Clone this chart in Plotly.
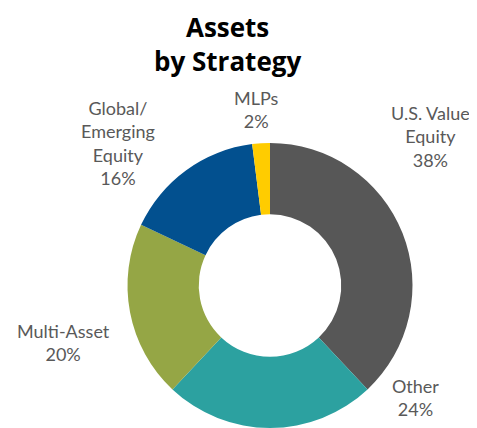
import plotly.graph_objects as go

# slices, clockwise from 12 o'clock
labels = ['U.S. Value Equity', 'Other', 'Multi-Asset', 'Global/Emerging Equity', 'MLPs']
values = [38, 24, 20, 16, 2]
label_text = ['U.S. Value<br>Equity', 'Other', 'Multi-Asset', 'Global/<br>Emerging<br>Equity', 'MLPs']
colors = ['#575757', '#2CA1A0', '#95A645', '#02508F', '#FFCC00']

# the page body adds an 8px margin, so the figure is drawn 8px smaller
OFF = 8
W, H = 477 - OFF, 428 - OFF


def px(x, y):
    # reference pixel -> paper coords
    return (x - OFF) / W, 1 - (y - OFF) / H


# label centres in reference pixels
label_pos = [(430, 136), (415, 397), (63, 342), (118, 143), (257, 109)]

x0, _ = px(125, 0)
x1, y1 = px(415, 143)

fig = go.Figure()
fig.add_trace(go.Pie(
    labels=labels,
    values=values,
    hole=0.5,
    sort=False,
    direction='clockwise',
    rotation=0,
    textinfo='none',
    marker=dict(colors=colors, line=dict(width=0)),
    domain=dict(x=[x0, x1], y=[0, y1]),
    showlegend=False,
))

for txt, v, (lx, ly) in zip(label_text, values, label_pos):
    ax, ay = px(lx, ly)
    fig.add_annotation(
        x=ax, y=ay, xref='paper', yref='paper',
        text=f'{txt}<br>{v}%', showarrow=False,
        xanchor='center', yanchor='middle', align='center',
        font=dict(family='Lato', size=18, color='#595959'),
    )

tx, _ = px(227, 0)
fig.add_annotation(
    x=tx, y=1, xref='paper', yref='paper',
    text='<b>Assets<br>by Strategy</b>', showarrow=False,
    xanchor='center', yanchor='top', align='center', borderpad=0,
    font=dict(family='Open Sans', size=26, color='black'),
)

fig.update_layout(
    width=W, height=H,
    margin=dict(l=0, r=0, t=0, b=0),
    paper_bgcolor='white',
    plot_bgcolor='white',
)

fig.write_html('out.html')
